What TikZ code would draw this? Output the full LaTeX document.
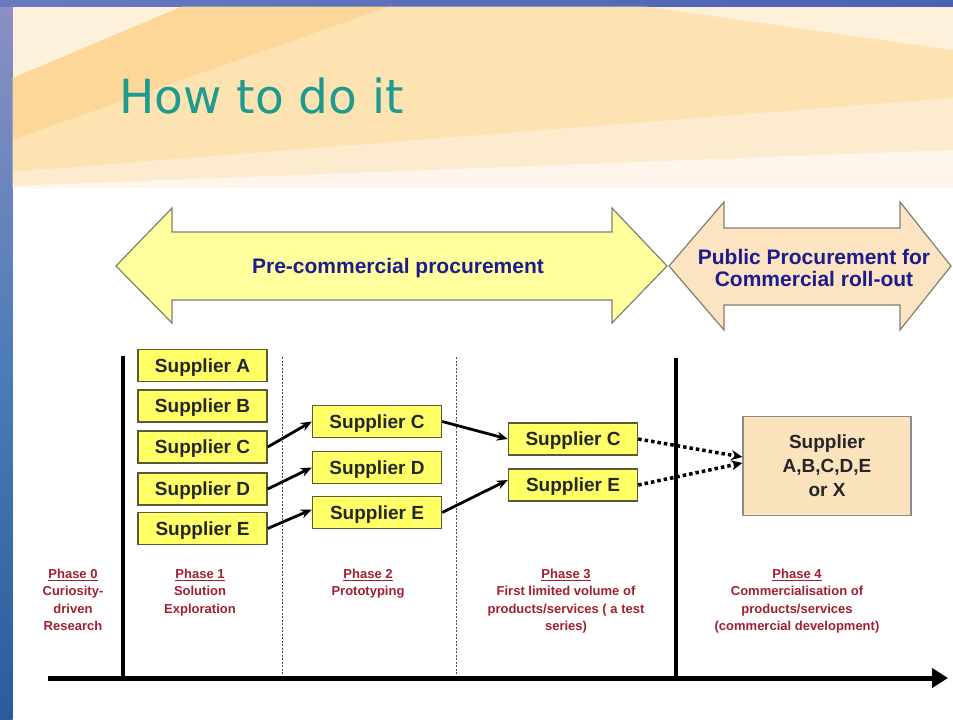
\documentclass[tikz,border=0pt]{standalone}
\usepackage{fontspec}
\setmainfont{Liberation Sans}
\newfontfamily\titlefont{DejaVu Sans}
\usetikzlibrary{arrows.meta,calc}
\definecolor{bandbase}{HTML}{FDF1DC}
\definecolor{rayA}{HTML}{FCD797}
\definecolor{rayB}{HTML}{FDE2B2}
\definecolor{rayC}{HTML}{FDEBCF}
\definecolor{rayD}{HTML}{FEF6EA}
\definecolor{bluetop}{HTML}{6A79C2}
\definecolor{bluetopR}{HTML}{4A62B0}
\definecolor{blueA}{HTML}{8C90C4}
\definecolor{blueB}{HTML}{4D7CB6}
\definecolor{blueC}{HTML}{2D5A9C}
\definecolor{titleteal}{HTML}{1E9A8E}
\definecolor{supyellow}{HTML}{FFFF66}
\definecolor{supborder}{HTML}{5A5A3A}
\definecolor{arrowyellow}{HTML}{FFFF9E}
\definecolor{arrowpeach}{HTML}{FCE3C2}
\definecolor{boxpeach}{HTML}{FBE3BD}
\definecolor{shapeborder}{HTML}{808070}
\definecolor{navytext}{HTML}{1C1C8C}
\definecolor{phasered}{HTML}{A02030}
\begin{document}
\begin{tikzpicture}[x=1pt,y=-1pt,
  sup/.style={draw=supborder, line width=1.4pt, fill=supyellow,
    minimum width=129pt, minimum height=32pt, inner sep=0pt, text depth=0pt,
    font=\bfseries\fontsize{19}{23}\selectfont, text=black!85},
  flow/.style={line width=2.8pt, -{Stealth[length=11pt,width=9pt]}},
  dotflow/.style={line width=3.5pt, dash pattern=on 3.5pt off 3pt,
    -{Stealth[length=11pt,width=10pt]}},
  phase/.style={align=center, text=phasered, inner sep=0pt, anchor=north,
    font=\bfseries\fontsize{13}{17.3}\selectfont},
  bigshape/.style={draw=shapeborder, line width=1.2pt, line join=miter},
  navy/.style={text=navytext, align=center, inner sep=0pt,
    font=\bfseries\fontsize{21}{22}\selectfont},
  thickbar/.style={line width=4.5pt},
  thinbar/.style={line width=0.8pt, draw=black!70, dash pattern=on 2pt off 1.5pt}
]
\useasboundingbox (0,0) rectangle (953,720);
\fill[white] (0,0) rectangle (953,720);

% blue frame
\shade[top color=blueA, bottom color=blueC, middle color=blueB] (0,0) rectangle (12.5,720);
\shade[left color=bluetop, right color=bluetopR] (0,0) rectangle (953,6.5);

% title band with rays
\fill[bandbase] (12.5,6.5) rectangle (953,188);
\fill[rayA] (12.5,78) -- (182,6.5) -- (390,6.5) -- (12.5,140) -- cycle;
\fill[rayB] (12.5,140) -- (390,6.5) -- (645,6.5) -- (953,50) -- (953,98) -- (12.5,172) -- cycle;
\fill[rayC] (12.5,172) -- (953,98) -- (953,150) -- (12.5,186) -- cycle;
\fill[rayD] (12.5,186) -- (953,150) -- (953,188) -- (12.5,188) -- cycle;

\node[anchor=base west, inner sep=0pt, text=titleteal,
  font=\titlefont\fontsize{47}{50}\selectfont] (title) at (119,113) {How to do it};

% big arrows
\draw[bigshape, fill=arrowyellow] (116,266) -- (172,208) -- (172,232) -- (612,232) -- (612,208)
  -- (667,266) -- (612,323) -- (612,300) -- (172,300) -- (172,323) -- cycle;
\draw[bigshape, fill=arrowpeach] (669,266) -- (724,202) -- (724,228) -- (900,228) -- (900,202)
  -- (951,266) -- (900,330) -- (900,305) -- (724,305) -- (724,330) -- cycle;
\node[navy] (pcp) at (398,268) {Pre-commercial procurement};
\node[navy] (ppc) at (814,268) {Public Procurement for\\Commercial roll-out};

% phase separators and axis
\coordinate (axL) at (48,678);
\coordinate (axR) at (948,678);
\draw[thickbar] (123,356) -- (123,678);
\draw[thickbar] (676,358) -- (676,678);
\draw[thinbar] (282,357) -- (282,676);
\draw[thinbar] (456,357) -- (456,676);
\draw[line width=5pt, -{Triangle[length=16pt,width=19pt]}] (axL) -- (axR);

% suppliers
\node[sup] (A1) at (202.5,365.5) {Supplier A};
\node[sup] (B1) at (202.5,406) {Supplier B};
\node[sup] (C1) at (202.5,447) {Supplier C};
\node[sup] (D1) at (202.5,489) {Supplier D};
\node[sup] (E1) at (202.5,528.5) {Supplier E};
\node[sup] (C2) at (377,421.5) {Supplier C};
\node[sup] (D2) at (377,467.5) {Supplier D};
\node[sup] (E2) at (377,512.5) {Supplier E};
\node[sup] (C3) at (573,439) {Supplier C};
\node[sup] (E3) at (573,485) {Supplier E};
\node[draw=black!45, line width=1.2pt, fill=boxpeach, minimum width=168pt, minimum height=99pt,
  inner sep=0pt, align=center, text=black!85,
  font=\bfseries\fontsize{19}{24}\selectfont] (X) at (827,466) {Supplier\\A,B,C,D,E\\or X};

% flows
\draw[flow] (C1.east) -- (C2.west);
\draw[flow] (D1.east) -- (D2.west);
\draw[flow] (E1.east) -- ([yshift=3pt]E2.west);
\draw[flow] (C2.east) -- (C3.west);
\draw[flow] (E2.east) -- ([yshift=5pt]E3.west);
\draw[dotflow] (C3.east) -- ([yshift=9pt]X.west);
\draw[dotflow] (E3.east) -- ([yshift=3pt]X.west);

% phase labels
\node[phase] (ph0) at (73,569) {\underline{Phase 0}\\Curiosity-\\driven\\Research};
\node[phase] (ph1) at (200,569) {\underline{Phase 1}\\Solution\\Exploration};
\node[phase] (ph2) at (368,569) {\underline{Phase 2}\\Prototyping};
\node[phase] (ph3) at (566,569) {\underline{Phase 3}\\First limited volume of\\products/services ( a test\\series)};
\node[phase] (ph4) at (797,569) {\underline{Phase 4}\\Commercialisation of\\products/services\\(commercial development)};
\end{tikzpicture}
\end{document}
